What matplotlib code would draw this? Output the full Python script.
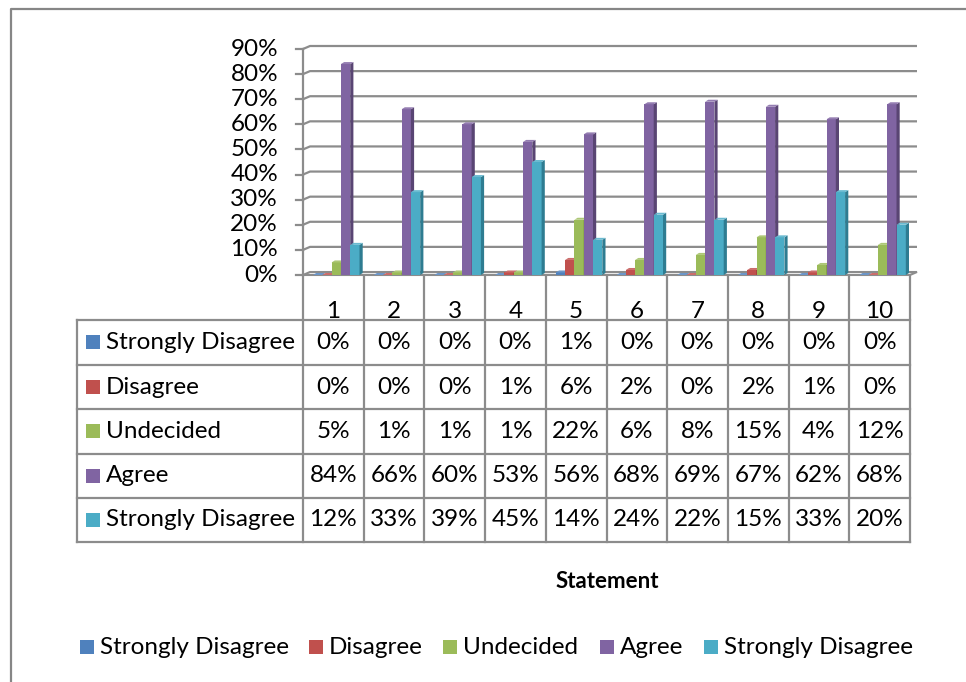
import matplotlib
matplotlib.use("Agg")
import matplotlib.pyplot as plt
from matplotlib.patches import Polygon
import colorsys
import matplotlib.colors as mcolors

# ---------------- data ----------------
categories = ["1", "2", "3", "4", "5", "6", "7", "8", "9", "10"]
series_names = ["Strongly Disagree", "Disagree", "Undecided", "Agree", "Strongly Disagree"]
strongly_disagree = [0, 0, 0, 0, 1, 0, 0, 0, 0, 0]
disagree = [0, 0, 0, 1, 6, 2, 0, 2, 1, 0]
undecided = [5, 1, 1, 1, 22, 6, 8, 15, 4, 12]
agree = [84, 66, 60, 53, 56, 68, 69, 67, 62, 68]
strongly_disagree_2 = [12, 33, 39, 45, 14, 24, 22, 15, 33, 20]
y_ticks = [0, 10, 20, 30, 40, 50, 60, 70, 80, 90]
x_title = "Statement"
colors = ["#4F81BD", "#C0504D", "#9BBB59", "#8064A2", "#4BACC6"]

series = [strongly_disagree, disagree, undecided, agree, strongly_disagree_2]

FONT = ["Lato", "DejaVu Sans"]
plt.rcParams["font.family"] = FONT

W, H = 966, 682
fig = plt.figure(figsize=(W / 100, H / 100), dpi=100)
fig.patch.set_facecolor("white")

# layout in pixels
X0, X1 = 303, 910          # front plane of plot / table category columns
Y0, Y90 = 275, 49          # 0% and 90% on the front plane
GRID = "#8C8C8C"
TABLE = "#8C8C8C"

# overlay axes in pixel coords
ov = fig.add_axes([0, 0, 1, 1], zorder=0)
ov.set_xlim(0, W)
ov.set_ylim(H, 0)
ov.axis("off")

# main data axes
ax = fig.add_axes([X0 / W, (H - Y0) / H, (X1 - X0) / W, (Y0 - Y90) / H], zorder=1)
ax.set_xlim(0, len(categories))
ax.set_ylim(y_ticks[0], y_ticks[-1])
ax.axis("off")
ax.patch.set_alpha(0)

px_x = (X1 - X0) / len(categories)
px_y = (Y0 - Y90) / (y_ticks[-1] - y_ticks[0])
DX = 7 / px_x          # wall depth
DY = 3 / px_y
bdx = 3.2 / px_x        # bar depth
bdy = 2.0 / px_y
OFF = 10 / px_x
BW = 9.3 / px_x

ncat = len(categories)

# floor
floor = Polygon([(0, 0), (ncat, 0), (ncat + DX, DY), (DX, DY)], closed=True,
                facecolor="#F2F2F2", edgecolor=GRID, lw=1.5, zorder=1, clip_on=False)
ax.add_patch(floor)

# gridlines (side wall + back wall)
for t in y_ticks[1:]:
    ax.plot([0, DX, ncat + DX], [t, t + DY, t + DY], color=GRID, lw=1.6,
            zorder=0.5, clip_on=False, solid_capstyle="butt")
# tick marks
for t in y_ticks:
    ax.plot([-7 / px_x, 0], [t, t], color=GRID, lw=1.6, clip_on=False, zorder=2)
ax.plot([0, 0], [0, y_ticks[-1]], color=GRID, lw=1.6, clip_on=False, zorder=2)


def shade(c, f):
    r, g, b = mcolors.to_rgb(c)
    h, l, s = colorsys.rgb_to_hls(r, g, b)
    l = max(0, min(1, l * f))
    return colorsys.hls_to_rgb(h, l, s)


# bars
z = 3
for i in range(ncat):
    for j, vals in enumerate(series):
        v = vals[i]
        xl = i + OFF + j * BW
        c = colors[j]
        ax.bar(xl, v, width=BW, align="edge", color=c, edgecolor="none",
               zorder=z, clip_on=False)
        ax.add_patch(Polygon([(xl + BW, 0), (xl + BW + bdx, bdy), (xl + BW + bdx, v + bdy), (xl + BW, v)],
                             closed=True, facecolor=shade(c, 0.7), edgecolor="none",
                             zorder=z, clip_on=False))
        ax.add_patch(Polygon([(xl, v), (xl + BW, v), (xl + BW + bdx, v + bdy), (xl + bdx, v + bdy)],
                             closed=True, facecolor=shade(c, 1.15), edgecolor="none",
                             zorder=z, clip_on=False))
        z += 0.01

FS = 17.5
# y tick labels
for t in y_ticks:
    yp = Y0 - (t - y_ticks[0]) * px_y
    ov.text(278, yp, f"{t}%", ha="right", va="center", fontsize=FS, color="black")

# ---------------- table ----------------
TL = 77
row_y = [320, 365, 409, 454, 498, 542]
col_x = [X0 + k * px_x for k in range(ncat + 1)]
lw_t = 1.6
# vertical lines
for k, x in enumerate(col_x):
    ov.plot([x, x], [Y0, row_y[-1]], color=TABLE, lw=lw_t, solid_capstyle="projecting")
ov.plot([TL, TL], [row_y[0], row_y[-1]], color=TABLE, lw=lw_t, solid_capstyle="projecting")
for y in row_y:
    ov.plot([TL, X1], [y, y], color=TABLE, lw=lw_t, solid_capstyle="projecting")

# category labels
for k, cat in enumerate(categories):
    ov.text((col_x[k] + col_x[k + 1]) / 2, 311, cat, ha="center", va="center",
            fontsize=FS, color="black")

# series rows
for j, vals in enumerate(series):
    yc = (row_y[j] + row_y[j + 1]) / 2
    ov.add_patch(plt.Rectangle((86, yc - 7.5), 14, 14, facecolor=colors[j], edgecolor="none"))
    ov.text(106, yc, series_names[j], ha="left", va="center", fontsize=FS, color="black")
    for k, v in enumerate(vals):
        ov.text((col_x[k] + col_x[k + 1]) / 2, yc, f"{v}%", ha="center", va="center",
                fontsize=FS, color="black")

# axis title
ov.text(607, 581, x_title, ha="center", va="center", fontsize=16, fontweight="bold", color="black")

# bottom legend
leg_sq_x = [80, 309, 443, 600, 704]
for j, name in enumerate(series_names):
    ov.add_patch(plt.Rectangle((leg_sq_x[j], 640), 14, 14, facecolor=colors[j], edgecolor="none"))
    ov.text(leg_sq_x[j] + 20, 647, name, ha="left", va="center", fontsize=FS, color="black")

# chart border
ov.plot([11, 11, W + 2], [H + 2, 9, 9], color="#868686", lw=1.6)

fig.savefig("out.png", dpi=100, facecolor="white")
